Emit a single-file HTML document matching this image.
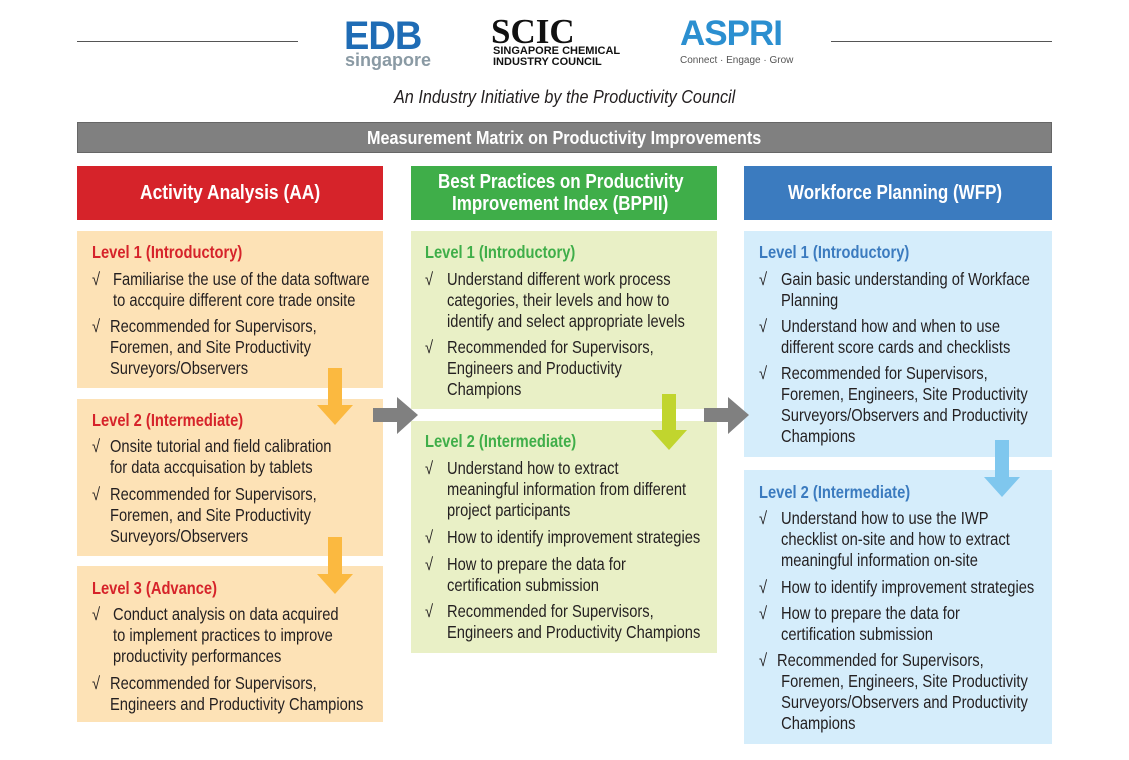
<!DOCTYPE html>
<html><head><meta charset="utf-8"><style>
body{margin:0;width:1129px;height:760px;background:#fff;position:relative;font-family:"Liberation Sans",sans-serif;overflow:hidden}
.a{position:absolute}
.l{position:absolute;white-space:nowrap;font-size:17.5px;line-height:21px;color:#231f20;transform:scaleX(.84);transform-origin:left}
.h{font-weight:bold}
</style></head><body>
<div class="a" style="left:77px;top:41px;width:221px;height:1px;background:#555"></div>
<div class="a" style="left:831px;top:41px;width:221px;height:1px;background:#555"></div>
<div class="a" style="left:344px;top:14px;font-size:40px;font-weight:bold;color:#1f6cb5;letter-spacing:-1px;transform:scaleX(.95);transform-origin:left">EDB</div>
<div class="a" style="left:345px;top:50px;font-size:18px;font-weight:bold;color:#8a9aa4">singapore</div>
<div class="a" style="left:491px;top:12px;font-size:35px;font-weight:bold;color:#111;font-family:'Liberation Serif',serif">SCIC</div>
<div class="a" style="left:493px;top:46px;font-size:11px;font-weight:bold;color:#111;line-height:11px">SINGAPORE CHEMICAL<br>INDUSTRY COUNCIL</div>
<div class="a" style="left:680px;top:14px;font-size:35px;font-weight:bold;color:#2b8fd0;letter-spacing:-1px">ASPRI</div>
<div class="a" style="left:680px;top:55px;font-size:10px;color:#555">Connect · Engage · Grow</div>
<div class="l" style="left:394px;top:87px;font-style:italic;font-size:18px;transform:scaleX(.9)">An Industry Initiative by the Productivity Council</div>
<div class="a" style="left:77px;top:122px;width:975px;height:31px;background:#808080;border:1px solid #666;box-sizing:border-box"></div>
<div class="l h" style="left:367px;top:128px;color:#fff;font-size:18px;transform:scaleX(.9)">Measurement Matrix on Productivity Improvements</div>

<div class="a" style="left:77px;top:166px;width:306px;height:54px;background:#d6232a"></div>
<div class="l h" style="left:140px;top:183px;color:#fff;font-size:20px;transform:scaleX(.87)">Activity Analysis (AA)</div>
<div class="a" style="left:411px;top:166px;width:306px;height:54px;background:#3fae49"></div>
<div class="l h" style="left:438px;top:172px;color:#fff;font-size:20px;transform:scaleX(.85)">Best Practices on Productivity</div>
<div class="l h" style="left:452px;top:194px;color:#fff;font-size:20px;transform:scaleX(.85)">Improvement Index (BPPII)</div>
<div class="a" style="left:744px;top:166px;width:308px;height:54px;background:#3b7bbf"></div>
<div class="l h" style="left:788px;top:183px;color:#fff;font-size:20px;transform:scaleX(.85)">Workforce Planning (WFP)</div>

<div class="a" style="left:77px;top:231px;width:306px;height:157px;background:#fde2b6"></div>
<div class="a" style="left:77px;top:399px;width:306px;height:157px;background:#fde2b6"></div>
<div class="a" style="left:77px;top:566px;width:306px;height:156px;background:#fde2b6"></div>
<div class="a" style="left:411px;top:231px;width:306px;height:178px;background:#e9f0c6"></div>
<div class="a" style="left:411px;top:421px;width:306px;height:232px;background:#e9f0c6"></div>
<div class="a" style="left:744px;top:231px;width:308px;height:226px;background:#d5edfb"></div>
<div class="a" style="left:744px;top:470px;width:308px;height:274px;background:#d5edfb"></div>

<svg class="a" style="left:0;top:0" width="1129" height="760">
<g fill="#fbb940"><polygon points="328,368 342,368 342,405 353,405 335,425 317,405 328,405"/><polygon points="328,537 342,537 342,574 353,574 335,594 317,574 328,574"/></g>
<polygon fill="#c1d52e" points="662,394 676,394 676,430 687,430 669,450 651,430 662,430"/>
<polygon fill="#7fc7ee" points="995,440 1009,440 1009,477 1020,477 1002,497 984,477 995,477"/>
<g fill="#808080"><polygon points="373,408 397,408 397,397 418,415 397,434 397,422 373,422"/><polygon points="704,408 728,408 728,397 749,415 728,434 728,422 704,422"/></g>
</svg>

<div class="l h" style="left:92px;top:242px;color:#d6232a">Level 1 (Introductory)</div>
<div class="l" style="left:92px;top:269px">√</div>
<div class="l" style="left:113px;top:269px">Familiarise the use of the data software<br>to accquire different core trade onsite</div>
<div class="l" style="left:92px;top:316px">√</div>
<div class="l" style="left:110px;top:316px">Recommended for Supervisors,<br>Foremen, and Site Productivity<br>Surveyors/Observers</div>
<div class="l h" style="left:92px;top:410px;color:#d6232a">Level 2 (Intermediate)</div>
<div class="l" style="left:92px;top:436px">√</div>
<div class="l" style="left:110px;top:436px">Onsite tutorial and field calibration<br>for data accquisation by tablets</div>
<div class="l" style="left:92px;top:484px">√</div>
<div class="l" style="left:110px;top:484px">Recommended for Supervisors,<br>Foremen, and Site Productivity<br>Surveyors/Observers</div>
<div class="l h" style="left:92px;top:578px;color:#d6232a">Level 3 (Advance)</div>
<div class="l" style="left:92px;top:604px">√</div>
<div class="l" style="left:113px;top:604px">Conduct analysis on data acquired<br>to implement practices to improve<br>productivity performances</div>
<div class="l" style="left:92px;top:673px">√</div>
<div class="l" style="left:110px;top:673px">Recommended for Supervisors,<br>Engineers and Productivity Champions</div>

<div class="l h" style="left:425px;top:242px;color:#3fae49">Level 1 (Introductory)</div>
<div class="l" style="left:425px;top:269px">√</div>
<div class="l" style="left:447px;top:269px">Understand different work process<br>categories, their levels and how to<br>identify and select appropriate levels</div>
<div class="l" style="left:425px;top:337px">√</div>
<div class="l" style="left:447px;top:337px">Recommended for Supervisors,<br>Engineers and Productivity<br>Champions</div>
<div class="l h" style="left:425px;top:431px;color:#3fae49">Level 2 (Intermediate)</div>
<div class="l" style="left:425px;top:458px">√</div>
<div class="l" style="left:447px;top:458px">Understand how to extract<br>meaningful information from different<br>project participants</div>
<div class="l" style="left:425px;top:527px">√</div>
<div class="l" style="left:447px;top:527px">How to identify improvement strategies</div>
<div class="l" style="left:425px;top:554px">√</div>
<div class="l" style="left:447px;top:554px">How to prepare the data for<br>certification submission</div>
<div class="l" style="left:425px;top:601px">√</div>
<div class="l" style="left:447px;top:601px">Recommended for Supervisors,<br>Engineers and Productivity Champions</div>

<div class="l h" style="left:759px;top:242px;color:#3b7bbf">Level 1 (Introductory)</div>
<div class="l" style="left:759px;top:269px">√</div>
<div class="l" style="left:781px;top:269px">Gain basic understanding of Workface<br>Planning</div>
<div class="l" style="left:759px;top:316px">√</div>
<div class="l" style="left:781px;top:316px">Understand how and when to use<br>different score cards and checklists</div>
<div class="l" style="left:759px;top:363px">√</div>
<div class="l" style="left:781px;top:363px">Recommended for Supervisors,<br>Foremen, Engineers, Site Productivity<br>Surveyors/Observers and Productivity<br>Champions</div>
<div class="l h" style="left:759px;top:482px;color:#3b7bbf">Level 2 (Intermediate)</div>
<div class="l" style="left:759px;top:508px">√</div>
<div class="l" style="left:781px;top:508px">Understand how to use the IWP<br>checklist on-site and how to extract<br>meaningful information on-site</div>
<div class="l" style="left:759px;top:577px">√</div>
<div class="l" style="left:781px;top:577px">How to identify improvement strategies</div>
<div class="l" style="left:759px;top:603px">√</div>
<div class="l" style="left:781px;top:603px">How to prepare the data for<br>certification submission</div>
<div class="l" style="left:759px;top:650px">√</div>
<div class="l" style="left:777px;top:650px">Recommended for Supervisors,<br>&nbsp;Foremen, Engineers, Site Productivity<br>&nbsp;Surveyors/Observers and Productivity<br>&nbsp;Champions</div>
</body></html>
